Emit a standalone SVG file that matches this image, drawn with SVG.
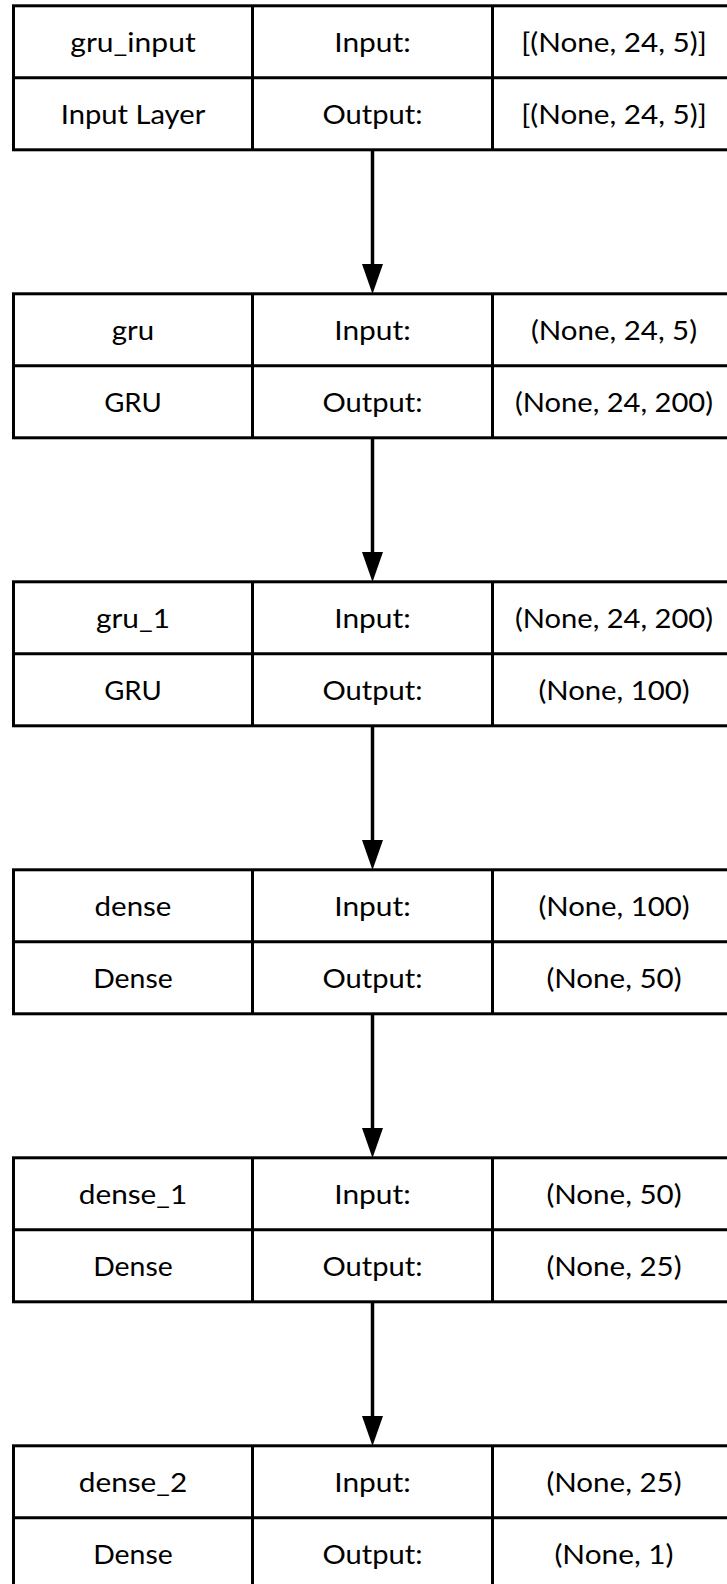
<svg xmlns="http://www.w3.org/2000/svg" width="727" height="1584" viewBox="0 0 727 1584">
  <style>
    .cell { fill: #ffffff; stroke: #000000; stroke-width: 3; }
    .rule { stroke: #000000; stroke-width: 3; fill: none; }
    .lbl { font-family: Lato, "Open Sans", "Liberation Sans", sans-serif; font-size: 27.5px; fill: #000000; text-anchor: middle; }
    .edge { stroke: #000000; stroke-width: 3.5; fill: none; marker-end: url(#head); }
  </style>
  <defs>
    <marker id="head" viewBox="0 0 30 21" refX="0" refY="10.5" markerWidth="30" markerHeight="21" markerUnits="userSpaceOnUse" orient="auto">
      <path d="M0,0 L30,10.5 L0,21 Z" fill="#000000"/>
    </marker>
    <!-- one layer box: name | Input:/Output: | shapes -->
    <g id="frame">
      <rect class="cell" x="13.5" y="0" width="722" height="144"/>
      <line class="rule" x1="13.5" y1="72" x2="735.5" y2="72"/>
      <line class="rule" x1="252.5" y1="0" x2="252.5" y2="144"/>
      <line class="rule" x1="492.5" y1="0" x2="492.5" y2="144"/>
    </g>
  </defs>

  <rect x="0" y="0" width="727" height="1584" fill="#ffffff"/>

  <g id="connectors">
    <line class="edge" x1="372.5" y1="151" x2="372.5" y2="264"/>
    <line class="edge" x1="372.5" y1="439" x2="372.5" y2="552"/>
    <line class="edge" x1="372.5" y1="727" x2="372.5" y2="840"/>
    <line class="edge" x1="372.5" y1="1015" x2="372.5" y2="1128"/>
    <line class="edge" x1="372.5" y1="1303" x2="372.5" y2="1416"/>
  </g>

  <g id="gru_input" transform="translate(0,5.8)">
    <use href="#frame"/>
    <text class="lbl" x="133" y="46.5" textLength="125.4" lengthAdjust="spacingAndGlyphs">gru_input</text>
    <text class="lbl" x="133" y="118.5" textLength="144.5" lengthAdjust="spacingAndGlyphs">Input Layer</text>
    <text class="lbl" x="372.5" y="46.5" textLength="76.5" lengthAdjust="spacingAndGlyphs">Input:</text>
    <text class="lbl" x="372.5" y="118.5" textLength="100" lengthAdjust="spacingAndGlyphs">Output:</text>
    <text class="lbl" x="614" y="46.5" textLength="185.5" lengthAdjust="spacingAndGlyphs">[(None, 24, 5)]</text>
    <text class="lbl" x="614" y="118.5" textLength="185.5" lengthAdjust="spacingAndGlyphs">[(None, 24, 5)]</text>
  </g>

  <g id="gru" transform="translate(0,293.8)">
    <use href="#frame"/>
    <text class="lbl" x="133" y="46.5" textLength="42.4" lengthAdjust="spacingAndGlyphs">gru</text>
    <text class="lbl" x="133" y="118.5" textLength="57.6" lengthAdjust="spacingAndGlyphs">GRU</text>
    <text class="lbl" x="372.5" y="46.5" textLength="76.5" lengthAdjust="spacingAndGlyphs">Input:</text>
    <text class="lbl" x="372.5" y="118.5" textLength="100" lengthAdjust="spacingAndGlyphs">Output:</text>
    <text class="lbl" x="614" y="46.5" textLength="166.2" lengthAdjust="spacingAndGlyphs">(None, 24, 5)</text>
    <text class="lbl" x="614" y="118.5" textLength="198.1" lengthAdjust="spacingAndGlyphs">(None, 24, 200)</text>
  </g>

  <g id="gru_1" transform="translate(0,581.8)">
    <use href="#frame"/>
    <text class="lbl" x="133" y="46.5" textLength="74" lengthAdjust="spacingAndGlyphs">gru_1</text>
    <text class="lbl" x="133" y="118.5" textLength="57.6" lengthAdjust="spacingAndGlyphs">GRU</text>
    <text class="lbl" x="372.5" y="46.5" textLength="76.5" lengthAdjust="spacingAndGlyphs">Input:</text>
    <text class="lbl" x="372.5" y="118.5" textLength="100" lengthAdjust="spacingAndGlyphs">Output:</text>
    <text class="lbl" x="614" y="46.5" textLength="198.1" lengthAdjust="spacingAndGlyphs">(None, 24, 200)</text>
    <text class="lbl" x="614" y="118.5" textLength="151.2" lengthAdjust="spacingAndGlyphs">(None, 100)</text>
  </g>

  <g id="dense" transform="translate(0,869.8)">
    <use href="#frame"/>
    <text class="lbl" x="133" y="46.5" textLength="76.8" lengthAdjust="spacingAndGlyphs">dense</text>
    <text class="lbl" x="133" y="118.5" textLength="79.6" lengthAdjust="spacingAndGlyphs">Dense</text>
    <text class="lbl" x="372.5" y="46.5" textLength="76.5" lengthAdjust="spacingAndGlyphs">Input:</text>
    <text class="lbl" x="372.5" y="118.5" textLength="100" lengthAdjust="spacingAndGlyphs">Output:</text>
    <text class="lbl" x="614" y="46.5" textLength="151.2" lengthAdjust="spacingAndGlyphs">(None, 100)</text>
    <text class="lbl" x="614" y="118.5" textLength="135.2" lengthAdjust="spacingAndGlyphs">(None, 50)</text>
  </g>

  <g id="dense_1" transform="translate(0,1157.8)">
    <use href="#frame"/>
    <text class="lbl" x="133" y="46.5" textLength="108.4" lengthAdjust="spacingAndGlyphs">dense_1</text>
    <text class="lbl" x="133" y="118.5" textLength="79.6" lengthAdjust="spacingAndGlyphs">Dense</text>
    <text class="lbl" x="372.5" y="46.5" textLength="76.5" lengthAdjust="spacingAndGlyphs">Input:</text>
    <text class="lbl" x="372.5" y="118.5" textLength="100" lengthAdjust="spacingAndGlyphs">Output:</text>
    <text class="lbl" x="614" y="46.5" textLength="135.2" lengthAdjust="spacingAndGlyphs">(None, 50)</text>
    <text class="lbl" x="614" y="118.5" textLength="135.2" lengthAdjust="spacingAndGlyphs">(None, 25)</text>
  </g>

  <g id="dense_2" transform="translate(0,1445.8)">
    <use href="#frame"/>
    <text class="lbl" x="133" y="46.5" textLength="108.4" lengthAdjust="spacingAndGlyphs">dense_2</text>
    <text class="lbl" x="133" y="118.5" textLength="79.6" lengthAdjust="spacingAndGlyphs">Dense</text>
    <text class="lbl" x="372.5" y="46.5" textLength="76.5" lengthAdjust="spacingAndGlyphs">Input:</text>
    <text class="lbl" x="372.5" y="118.5" textLength="100" lengthAdjust="spacingAndGlyphs">Output:</text>
    <text class="lbl" x="614" y="46.5" textLength="135.2" lengthAdjust="spacingAndGlyphs">(None, 25)</text>
    <text class="lbl" x="614" y="118.5" textLength="119.2" lengthAdjust="spacingAndGlyphs">(None, 1)</text>
  </g>
</svg>
